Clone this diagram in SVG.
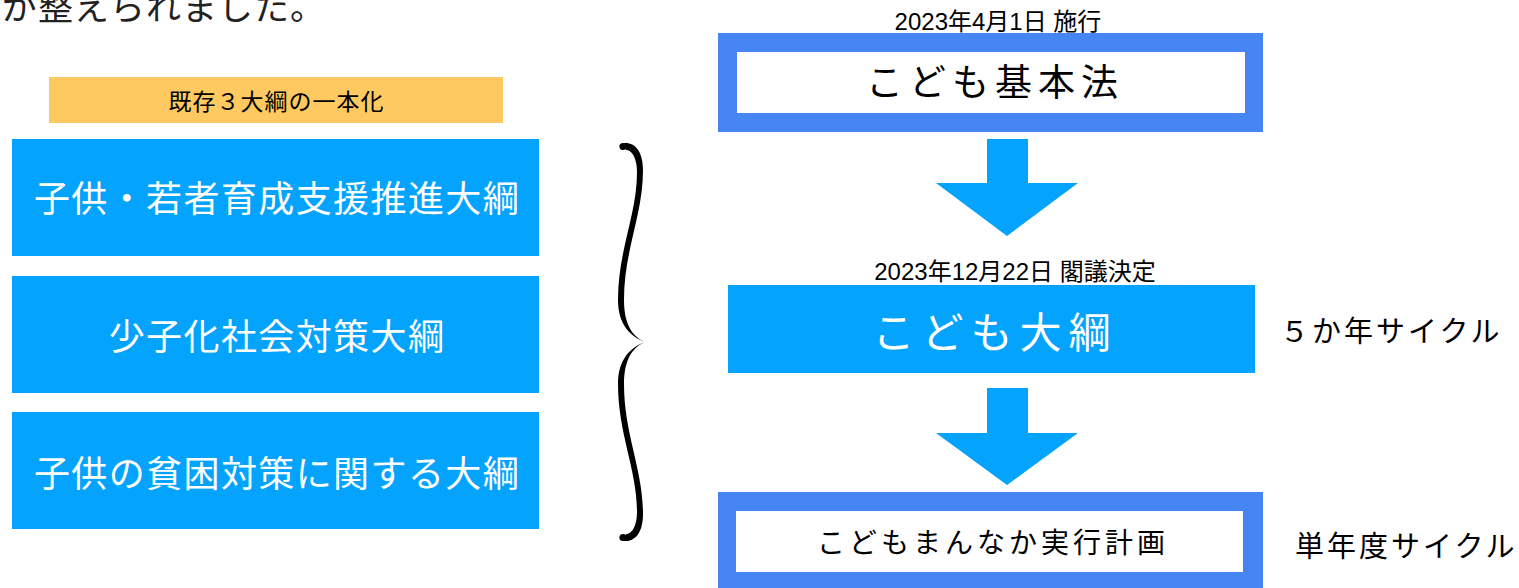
<svg xmlns="http://www.w3.org/2000/svg" width="1519" height="588" viewBox="0 0 1519 588">
<style>
text{font-family:"Liberation Sans","Noto Sans CJK JP",sans-serif}
.jp{font-family:"Noto Sans CJK JP","Liberation Sans",sans-serif}
.cyan{fill:#03A3FE}
.frame{fill:#4586F4}
.inner{fill:#FFFFFF}
.wt{fill:#FFFFFF;text-anchor:middle}
.bk{fill:#000000}
.mid{text-anchor:middle}
</style>
<rect width="1519" height="588" fill="#FFFFFF"/>
<text class="jp" x="2" y="19.5" font-size="35" letter-spacing="1" fill="#222222">が整えられました。</text>

<g id="header">
<rect x="49" y="77" width="454" height="46" fill="#FEC960"/>
<text class="jp bk mid" x="276.5" y="109.5" font-size="23" letter-spacing="1">既存３大綱の一本化</text>
</g>

<g id="box-left-1">
<rect class="cyan" x="12" y="139" width="527" height="117"/>
<text class="jp wt" x="277" y="212" font-size="36" letter-spacing="1.4">子供・若者育成支援推進大綱</text>
</g>
<g id="box-left-2">
<rect class="cyan" x="12" y="276" width="527" height="117"/>
<text class="jp wt" x="277" y="350" font-size="36" letter-spacing="1.4">少子化社会対策大綱</text>
</g>
<g id="box-left-3">
<rect class="cyan" x="12" y="412" width="527" height="117"/>
<text class="jp wt" x="277" y="487" font-size="36" letter-spacing="1.4">子供の貧困対策に関する大綱</text>
</g>

<g id="brace">
<path d="M624,143 C634,142 643,150 643,170 C643,215 624,250 624,300 C624,325 633,337 645,342 C631,337 618,325 618,300 C618,250 637,215 637,172 C637,158 632,150 626,150 Z" fill="#000000"/>
<circle cx="623" cy="146.5" r="3.6" fill="#000000"/>
<path d="M624,541 C634,542 643,534 643,514 C643,469 624,434 624,384 C624,359 633,347 645,342 C631,347 618,359 618,384 C618,434 637,469 637,512 C637,526 632,534 626,534 Z" fill="#000000"/>
<circle cx="623" cy="537.5" r="3.6" fill="#000000"/>
</g>

<g id="kodomo-kihonho">
<text class="bk mid" x="998" y="29.5" font-size="24">2023年4月1日 施行</text>
<rect class="frame" x="718" y="33" width="545" height="99"/>
<rect class="inner" x="737" y="52" width="508" height="61"/>
<text class="jp bk mid" x="995" y="95.5" font-size="37" letter-spacing="6">こども基本法</text>
</g>

<g id="kodomo-taiko">
<text class="bk mid" x="1015" y="280" font-size="24">2023年12月22日 閣議決定</text>
<rect class="cyan" x="728" y="285" width="527" height="88"/>
<text class="jp wt" x="995" y="347.5" font-size="42" letter-spacing="7">こども大綱</text>
</g>
<g id="label-5year">
<text class="jp bk" x="1280" y="341.5" font-size="29" letter-spacing="3">５か年サイクル</text>
</g>

<g id="kodomo-mannaka">
<rect class="frame" x="718" y="492" width="545" height="100"/>
<rect class="inner" x="736" y="511" width="507" height="61"/>
<text class="jp bk mid" x="993" y="553" font-size="28" letter-spacing="4">こどもまんなか実行計画</text>
</g>
<g id="label-1year">
<text class="jp bk" x="1295" y="557" font-size="29" letter-spacing="3">単年度サイクル</text>
</g>

<g id="connectors">
<polygon class="cyan" points="987,139 1028,139 1028,183 1078,183 1007,236 936,183 987,183"/>
<polygon class="cyan" points="987,388 1028,388 1028,433 1078,433 1007,485 936,433 987,433"/>
</g>
</svg>
